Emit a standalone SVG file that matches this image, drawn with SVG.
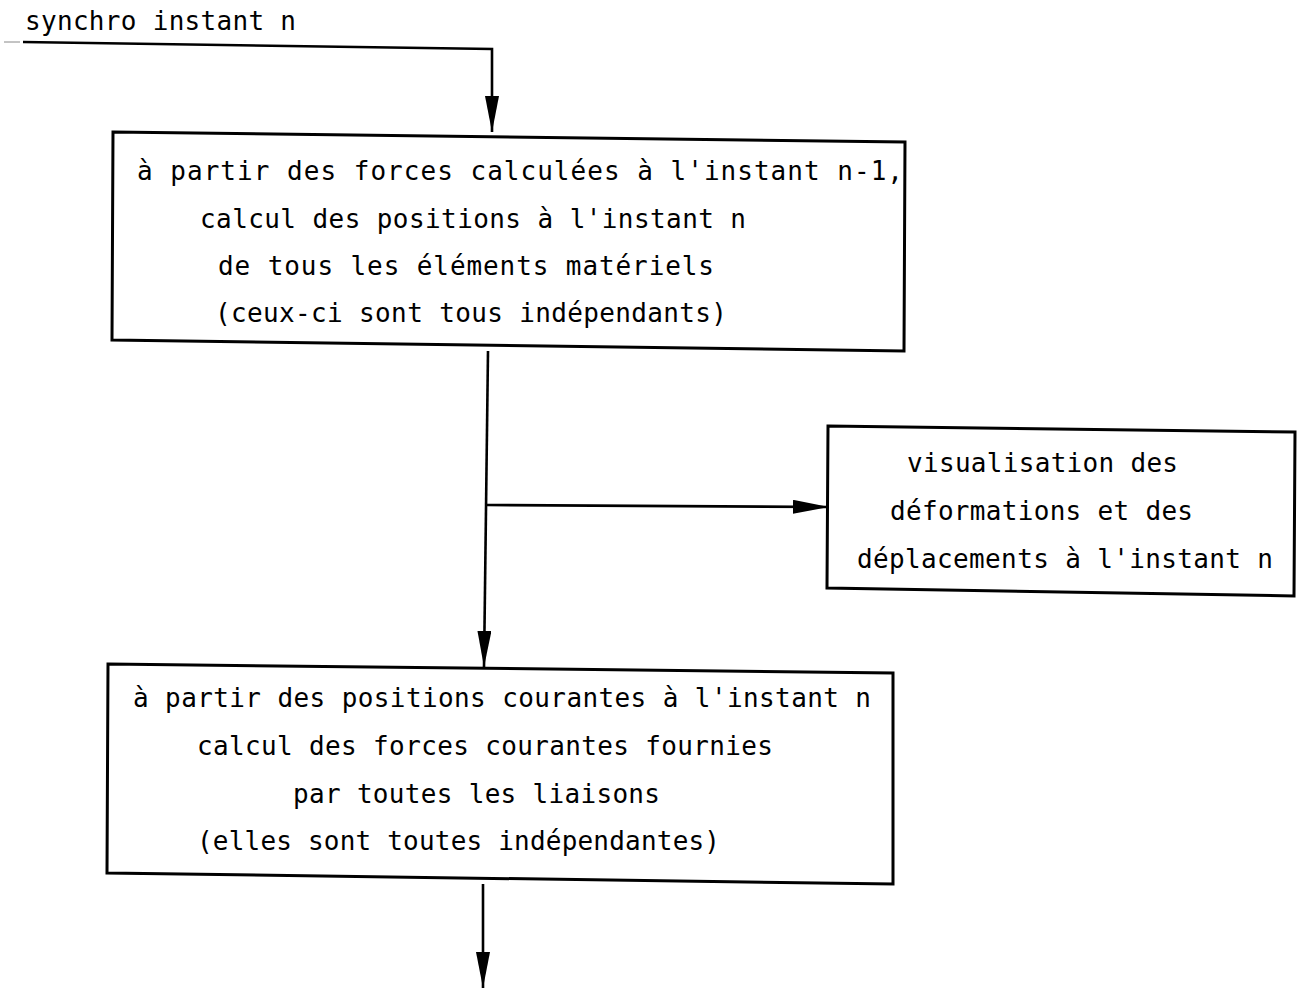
<svg xmlns="http://www.w3.org/2000/svg" width="1299" height="988" viewBox="0 0 1299 988">
<defs>
<style>
.box{fill:none;stroke:#000;stroke-width:3;stroke-linejoin:miter}
.con{fill:none;stroke:#000;stroke-width:2.6}
.t{font-family:"DejaVu Sans Mono","Liberation Mono",monospace;font-size:26px;fill:#000}
</style>
<marker id="ah" markerUnits="userSpaceOnUse" markerWidth="40" markerHeight="16" refX="36" refY="7" orient="auto">
<path d="M0,0 L36,7 L0,14 Z" fill="#000"/>
</marker>
</defs>
<rect width="1299" height="988" fill="#fff"/>
<g id="connectors">
<line x1="4" y1="42" x2="20" y2="42" stroke="#888" stroke-width="1"/>
<polyline class="con" points="23,42 492,49 492,132" marker-end="url(#ah)"/>
<line class="con" x1="488" y1="351" x2="484" y2="667" marker-end="url(#ah)"/>
<line class="con" x1="487" y1="505" x2="829" y2="507" marker-end="url(#ah)"/>
<line class="con" x1="483" y1="884" x2="483" y2="988" marker-end="url(#ah)"/>
</g>
<g id="label-synchro">
<text class="t" x="25" y="30" textLength="271" lengthAdjust="spacing">synchro instant n</text>
</g>
<g id="node-positions">
<polygon class="box" points="113,132 905,142 904,351 112,340"/>
<text class="t" x="137" y="180" textLength="766" lengthAdjust="spacing">à partir des forces calculées à l'instant n-1,</text>
<text class="t" x="200" y="228" textLength="546" lengthAdjust="spacing">calcul des positions à l'instant n</text>
<text class="t" x="218" y="275" textLength="496" lengthAdjust="spacing">de tous les éléments matériels</text>
<text class="t" x="215" y="322" textLength="512" lengthAdjust="spacing">(ceux-ci sont tous indépendants)</text>
</g>
<g id="node-visualisation">
<polygon class="box" points="828,426 1295,432 1294,596 827,588"/>
<text class="t" x="907" y="472" textLength="271" lengthAdjust="spacing">visualisation des</text>
<text class="t" x="890" y="520" textLength="303" lengthAdjust="spacing">déformations et des</text>
<text class="t" x="857" y="568" textLength="416" lengthAdjust="spacing">déplacements à l'instant n</text>
</g>
<g id="node-forces">
<polygon class="box" points="108,664 893,673 893,884 107,873"/>
<text class="t" x="133" y="707" textLength="738" lengthAdjust="spacing">à partir des positions courantes à l'instant n</text>
<text class="t" x="197" y="755" textLength="576" lengthAdjust="spacing">calcul des forces courantes fournies</text>
<text class="t" x="293" y="803" textLength="367" lengthAdjust="spacing">par toutes les liaisons</text>
<text class="t" x="197" y="850" textLength="523" lengthAdjust="spacing">(elles sont toutes indépendantes)</text>
</g>
</svg>
